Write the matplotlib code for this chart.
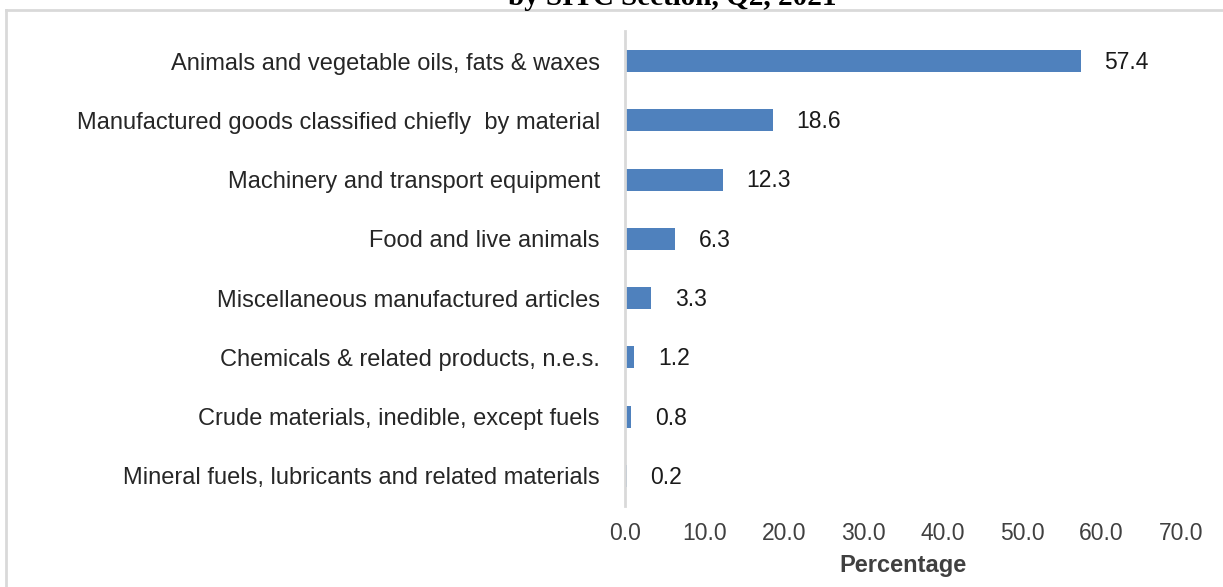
import matplotlib.pyplot as plt
from matplotlib.lines import Line2D

# SITC sections, share of exports (%)
categories = [
    "Animals and vegetable oils, fats & waxes",
    "Manufactured goods classified chiefly  by material",
    "Machinery and transport equipment",
    "Food and live animals",
    "Miscellaneous manufactured articles",
    "Chemicals & related products, n.e.s.",
    "Crude materials, inedible, except fuels",
    "Mineral fuels, lubricants and related materials",
]
values = [57.4, 18.6, 12.3, 6.3, 3.3, 1.2, 0.8, 0.2]
xticks = [0, 10, 20, 30, 40, 50, 60, 70]
title = "by SITC Section, Q2, 2021"

plt.rcParams['font.family'] = ['Liberation Sans', 'DejaVu Sans']

fig = plt.figure(figsize=(12.23, 5.87), dpi=100)
ax = fig.add_axes([0.511, 0.1387, 0.4546, 0.8078])

pos = list(range(len(categories)))
ax.barh(pos, values, height=0.37, color='#4F81BD', zorder=2)
ax.set_ylim(len(categories) - 0.5, -0.5)
ax.set_xlim(0, 70)
ax.set_yticks(pos)
ax.set_yticklabels(categories, fontsize=17, color='#262626')
ax.set_xticks(xticks)
ax.set_xticklabels([f"{t:.1f}" for t in xticks], fontsize=16.5, color='#404040')
ax.tick_params(axis='y', length=0, pad=18)
ax.tick_params(axis='x', length=0, pad=12)
ax.set_xlabel("Percentage", fontsize=17, fontweight='bold', color='#404040', labelpad=6)

for s in ['top', 'right', 'bottom']:
    ax.spines[s].set_visible(False)
ax.spines['left'].set_color('#D9D9D9')
ax.spines['left'].set_linewidth(2)

for p, v in zip(pos, values):
    ax.annotate(f"{v:.1f}", (v, p), xytext=(17, -1), textcoords='offset points',
                va='center', ha='left', fontsize=16.5, color='#1a1a1a')

# cut-off title and frame of the original figure
fig.text(0.55, 0.991, title, ha='center', va='baseline', fontsize=21,
         fontweight='bold', family='Liberation Serif')
fig.add_artist(Line2D([0.005, 1.0], [0.983, 0.983], color='#D9D9D9', lw=2,
                      transform=fig.transFigure))
fig.add_artist(Line2D([0.005, 0.005], [0.0, 0.983], color='#D9D9D9', lw=2,
                      transform=fig.transFigure))

fig.savefig("out.png", dpi=100)
